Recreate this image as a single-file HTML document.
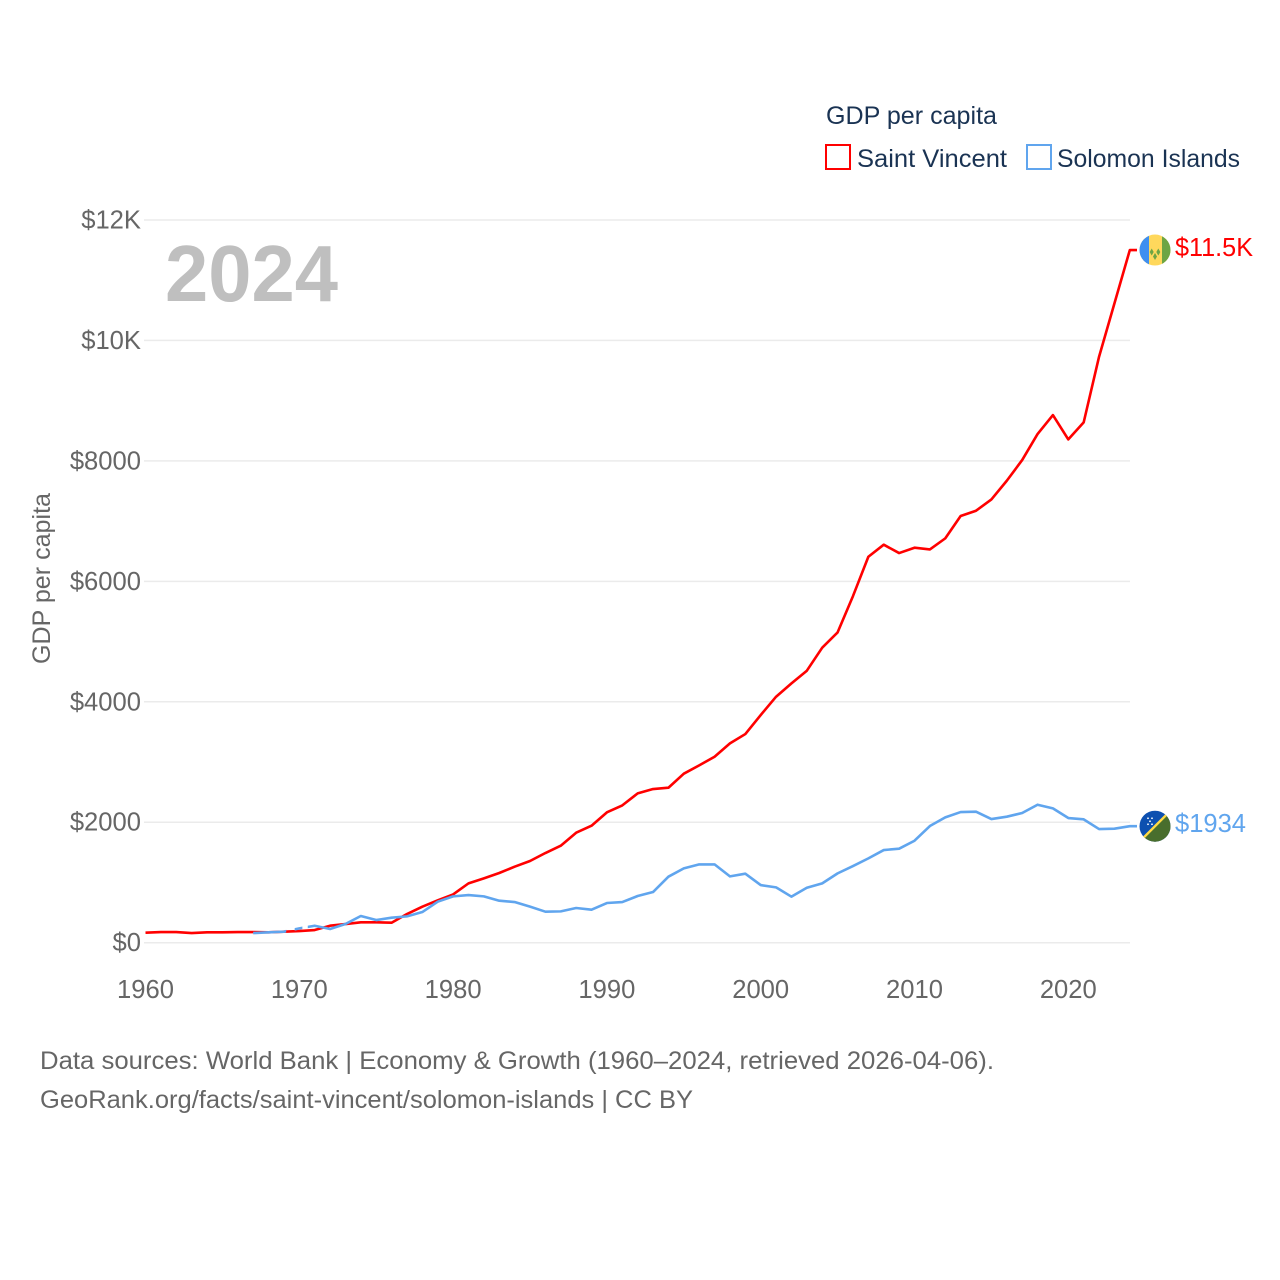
<!DOCTYPE html>
<html lang="en">
<head>
<meta charset="utf-8">
<title>GDP per capita: Saint Vincent and Solomon Islands</title>
<style>
html,body{margin:0;padding:0;background:#fff}
svg{display:block}
text{font-family:"Liberation Sans",sans-serif}
</style>
</head>
<body>
<svg id="chart" xmlns="http://www.w3.org/2000/svg" width="1280" height="1280" viewBox="0 0 1280 1280">
  <rect width="1280" height="1280" fill="#fff"/>
  <g id="grid"></g>
  <g id="yticks"></g>
  <g id="xticks"></g>
  <text transform="translate(50,664) rotate(-90)" font-size="25" fill="#666" textLength="171" lengthAdjust="spacingAndGlyphs">GDP per capita</text>
  <text x="165" y="301" font-size="80" font-weight="700" fill="#bfbfbf" textLength="173" lengthAdjust="spacingAndGlyphs">2024</text>
  <g id="series"></g>
  <g id="endmarks"></g>
  <g>
    <text x="826" y="124" font-size="25" fill="#1a3353" textLength="171" lengthAdjust="spacingAndGlyphs">GDP per capita</text>
    <rect x="826" y="145" width="24" height="24" fill="#fff" stroke="#ff0000" stroke-width="2"/>
    <text x="857" y="167" font-size="25" fill="#1a3353" textLength="150" lengthAdjust="spacingAndGlyphs">Saint Vincent</text>
    <rect x="1027" y="145" width="24" height="24" fill="#fff" stroke="#60a5ee" stroke-width="2"/>
    <text x="1057" y="167" font-size="25" fill="#1a3353" textLength="183" lengthAdjust="spacingAndGlyphs">Solomon Islands</text>
  </g>
  <g>
    <text x="40" y="1069" font-size="25" fill="#666" textLength="954" lengthAdjust="spacingAndGlyphs">Data sources: World Bank | Economy &amp; Growth (1960–2024, retrieved 2026-04-06).</text>
    <text x="40" y="1108" font-size="25" fill="#666" textLength="653" lengthAdjust="spacingAndGlyphs">GeoRank.org/facts/saint-vincent/solomon-islands | CC BY</text>
  </g>
</svg>
<script>
const saintVincentStartYear = 1960;
const saintVincentValues = [166,177,177,160,172,172,177,177,172,183,194,210,282,310,338,338,332,476,598,703,802,985,1068,1157,1262,1356,1489,1610,1826,1942,2164,2280,2479,2551,2573,2806,2944,3088,3309,3464,3780,4084,4305,4516,4898,5152,5755,6408,6608,6469,6558,6530,6713,7084,7172,7360,7670,8013,8445,8760,8356,8639,9729,10614,11500];
const solomonStartYear = 1967;
const solomonValues = [160,172,183,238,282,227,310,443,376,415,437,509,681,769,791,769,697,675,598,515,520,576,548,659,675,775,841,1096,1234,1300,1300,1101,1146,957,919,764,913,985,1151,1273,1400,1538,1561,1693,1937,2081,2169,2175,2053,2092,2153,2291,2230,2070,2048,1887,1893,1934];
const solomonGapYears = [[1969.15,1969.7],[1970.2,1970.55]];
const yTickValues = [0,2000,4000,6000,8000,10000,12000];
const yTickLabels = ["$0","$2000","$4000","$6000","$8000","$10K","$12K"];
const xTickYears = [1960,1970,1980,1990,2000,2010,2020];
const saintVincentEndLabel = "$11.5K";
const solomonEndLabel = "$1934";

const NS = "http://www.w3.org/2000/svg";
const x = year => 145.5 + (year - 1960) * 15.38;
const y = value => 942.7 - value * 0.06023;
const flagX = 1155;

function make(tag, parent, attrs, content) {
  const el = document.createElementNS(NS, tag);
  for (const k in attrs) el.setAttribute(k, attrs[k]);
  if (content !== undefined) el.textContent = content;
  parent.appendChild(el);
  return el;
}

const grid = document.getElementById("grid");
const yticks = document.getElementById("yticks");
const xticks = document.getElementById("xticks");
const series = document.getElementById("series");
const endmarks = document.getElementById("endmarks");

yTickValues.forEach((v, i) => {
  const line = make("line", grid, {x1: 144, x2: 1130, y1: y(v), y2: y(v), stroke: "#ebebeb", "stroke-width": 1.5});
  
  
  const label = make("text", yticks, {x: 141, y: y(v) + 8.5, "font-size": 25.6, fill: "#666", "text-anchor": "end"}, yTickLabels[i]);
  
  
});

xTickYears.forEach(year => {
  const label = make("text", xticks, {x: x(year), y: 998, "font-size": 25.6, fill: "#666", "text-anchor": "middle"}, String(year));
  
  
});

function seriesPoints(values, startYear) {
  const pts = values.map((v, i) => x(startYear + i).toFixed(2) + "," + y(v).toFixed(2));
  pts.push((flagX - 18) + "," + y(values[values.length - 1]).toFixed(2));
  return pts.join(" ");
}

const redLine = make("polyline", series, {points: seriesPoints(saintVincentValues, saintVincentStartYear), fill: "none", stroke: "#ff0000", "stroke-width": 2.6, "stroke-linejoin": "round"});



const mask = make("mask", series, {id: "solomon-gaps", maskUnits: "userSpaceOnUse", x: 0, y: 0, width: 1280, height: 1280});
make("rect", mask, {x: 0, y: 0, width: 1280, height: 1280, fill: "#fff"});
solomonGapYears.forEach(g => make("rect", mask, {x: x(g[0]), y: 0, width: x(g[1]) - x(g[0]), height: 1280, fill: "#000"}));

const blueLine = make("polyline", series, {points: seriesPoints(solomonValues, solomonStartYear), fill: "none", stroke: "#60a5ee", "stroke-width": 2.6, "stroke-linejoin": "round", mask: "url(#solomon-gaps)"});



// Flags and end labels follow the last value of each series
const svY = y(saintVincentValues[saintVincentValues.length - 1]);
const siY = y(solomonValues[solomonValues.length - 1]);

const clipA = make("clipPath", endmarks, {id: "clip-sv"});
make("circle", clipA, {cx: flagX, cy: svY, r: 15.5});
const clipB = make("clipPath", endmarks, {id: "clip-si"});
make("circle", clipB, {cx: flagX, cy: siY, r: 15.5});

const svFlag = make("g", endmarks, {"clip-path": "url(#clip-sv)"});


make("rect", svFlag, {x: flagX - 16, y: svY - 16, width: 32, height: 32, fill: "#ffd85c"});
make("rect", svFlag, {x: flagX - 16, y: svY - 16, width: 10, height: 32, fill: "#3f8ff0"});
make("rect", svFlag, {x: flagX + 7, y: svY - 16, width: 9, height: 32, fill: "#6da544"});
[[-3.3, 2], [3.3, 2], [0, 6.5]].forEach(d => {
  const cx = flagX + d[0], cy = svY + d[1];
  make("polygon", svFlag, {points: `${cx},${cy-3.5} ${cx+2},${cy} ${cx},${cy+3.5} ${cx-2},${cy}`, fill: "#6da544"});
});

const siFlag = make("g", endmarks, {"clip-path": "url(#clip-si)"});


make("rect", siFlag, {x: flagX - 16, y: siY - 16, width: 32, height: 32, fill: "#0d50b0"});
make("polygon", siFlag, {points: `${flagX+16},${siY-16} ${flagX+16},${siY+16} ${flagX-16},${siY+16}`, fill: "#496e2d"});
make("line", siFlag, {x1: flagX - 16, y1: siY + 16, x2: flagX + 16, y2: siY - 16, stroke: "#ffda44", "stroke-width": 2.4});
[[-7,-8],[-3,-8],[-5,-5],[-7,-2],[-3,-2]].forEach(d => {
  make("circle", siFlag, {cx: flagX + d[0], cy: siY + d[1], r: 0.9, fill: "#fff"});
});

const svLabel = make("text", endmarks, {x: 1175, y: svY + 6, "font-size": 25.6, fill: "#ff0000", textLength: 78, lengthAdjust: "spacingAndGlyphs"}, saintVincentEndLabel);


const siLabel = make("text", endmarks, {x: 1175, y: siY + 6, "font-size": 25.6, fill: "#60a5ee", textLength: 71, lengthAdjust: "spacingAndGlyphs"}, solomonEndLabel);


</script>
</body>
</html>
